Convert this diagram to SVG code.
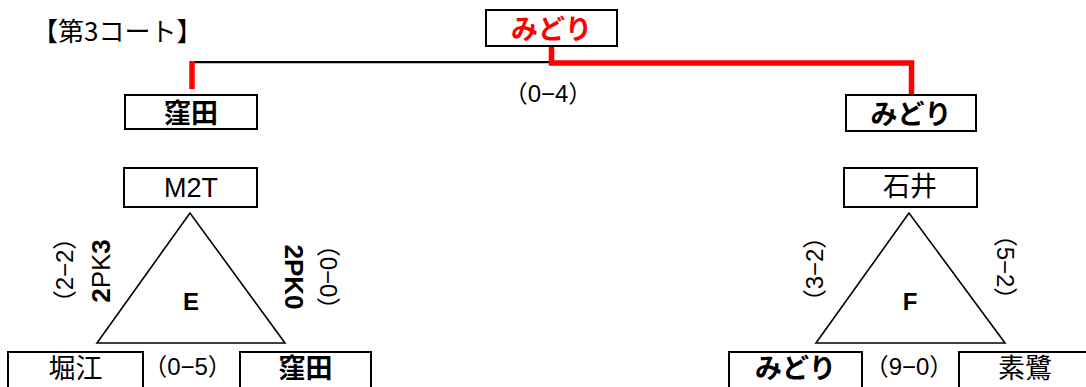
<svg xmlns="http://www.w3.org/2000/svg" width="1086" height="387" viewBox="0 0 1086 387">
<style>
.box{fill:#fff;stroke:#000;stroke-width:2}
.tri{fill:#fff;stroke:#000;stroke-width:1.6}
.t{font-family:"Liberation Sans","Noto Sans CJK JP",sans-serif;fill:#000}
.jp{font-family:"Noto Sans CJK JP","Liberation Sans",sans-serif;fill:#000;font-size:27px}
.b{font-weight:bold}
.sc{font-size:24px}
.red{stroke:#ff0000;stroke-width:5.5;fill:none}
.blk{stroke:#000;stroke-width:2.3;fill:none}
</style>
<rect width="1086" height="387" fill="#fff"/>
<text class="jp" x="32" y="41" style="font-size:26px">【第3コート】</text>

<g id="connectors">
<line class="blk" x1="192" y1="62.2" x2="551" y2="62.2"/>
<line class="red" x1="192" y1="61" x2="192" y2="89"/>
<polyline class="red" points="551.5,46 551.5,63 911.5,63 911.5,95"/>
</g>

<g id="winner">
<rect class="box" x="486" y="10" width="131" height="36"/>
<text class="jp b" x="551.5" y="38.5" text-anchor="middle" style="fill:#ff0000">みどり</text>
</g>

<text class="t sc" x="548" y="102" text-anchor="middle">（0−4）</text>

<g id="semi-left">
<rect class="box" x="125" y="95" width="132" height="34"/>
<text class="jp b" x="191" y="122.5" text-anchor="middle">窪田</text>
</g>
<g id="semi-right">
<rect class="box" x="846" y="95" width="130" height="36"/>
<text class="jp b" x="911" y="123.5" text-anchor="middle">みどり</text>
</g>

<g id="group-E">
<polygon class="tri" points="190,213 97,343 285,343"/>
<text class="t b" x="191" y="310" text-anchor="middle" font-size="24">E</text>
</g>
<g id="M2T">
<rect class="box" x="124" y="168" width="133" height="39"/>
<text class="t" x="191" y="197" text-anchor="middle" font-size="27">M2T</text>
</g>
<g id="horie">
<rect class="box" x="8" y="352" width="135" height="45"/>
<text class="jp" x="75.5" y="378" text-anchor="middle">堀江</text>
</g>
<g id="kubota">
<rect class="box" x="240" y="352" width="131" height="45"/>
<text class="jp b" x="305.5" y="378" text-anchor="middle">窪田</text>
</g>
<text class="t sc" x="187.5" y="375" text-anchor="middle">（0−5）</text>
<g transform="translate(64,270) rotate(-90)">
<text class="t sc" x="0" y="8.5" text-anchor="middle">（2−2）</text>
</g>
<g transform="translate(100,271) rotate(-90)">
<text class="t" x="0" y="9.5" text-anchor="middle" font-size="26"><tspan class="b">2</tspan>PK<tspan class="b">3</tspan></text>
</g>
<g transform="translate(294,277) rotate(90)">
<text class="t b" x="0" y="9.5" text-anchor="middle" font-size="26">2PK0</text>
</g>
<g transform="translate(328,277) rotate(90)">
<text class="t sc" x="0" y="8.5" text-anchor="middle">（0−0）</text>
</g>

<g id="group-F">
<polygon class="tri" points="909,213 816,343 1005,343"/>
<text class="t b" x="910" y="310" text-anchor="middle" font-size="24">F</text>
</g>
<g id="ishii">
<rect class="box" x="844" y="168" width="133" height="39"/>
<text class="jp" x="910" y="196" text-anchor="middle">石井</text>
</g>
<g id="midori">
<rect class="box" x="729" y="352" width="133" height="45"/>
<text class="jp b" x="795.5" y="378" text-anchor="middle">みどり</text>
</g>
<g id="sosagi">
<rect class="box" x="959" y="352" width="133" height="45"/>
<text class="jp" x="1025" y="378" text-anchor="middle">素鷺</text>
</g>
<text class="t sc" x="909" y="375" text-anchor="middle">（9−0）</text>
<g transform="translate(814,269) rotate(-90)">
<text class="t sc" x="0" y="8.5" text-anchor="middle">（3−2）</text>
</g>
<g transform="translate(1005,267) rotate(90)">
<text class="t sc" x="0" y="8.5" text-anchor="middle">（5−2）</text>
</g>
</svg>
